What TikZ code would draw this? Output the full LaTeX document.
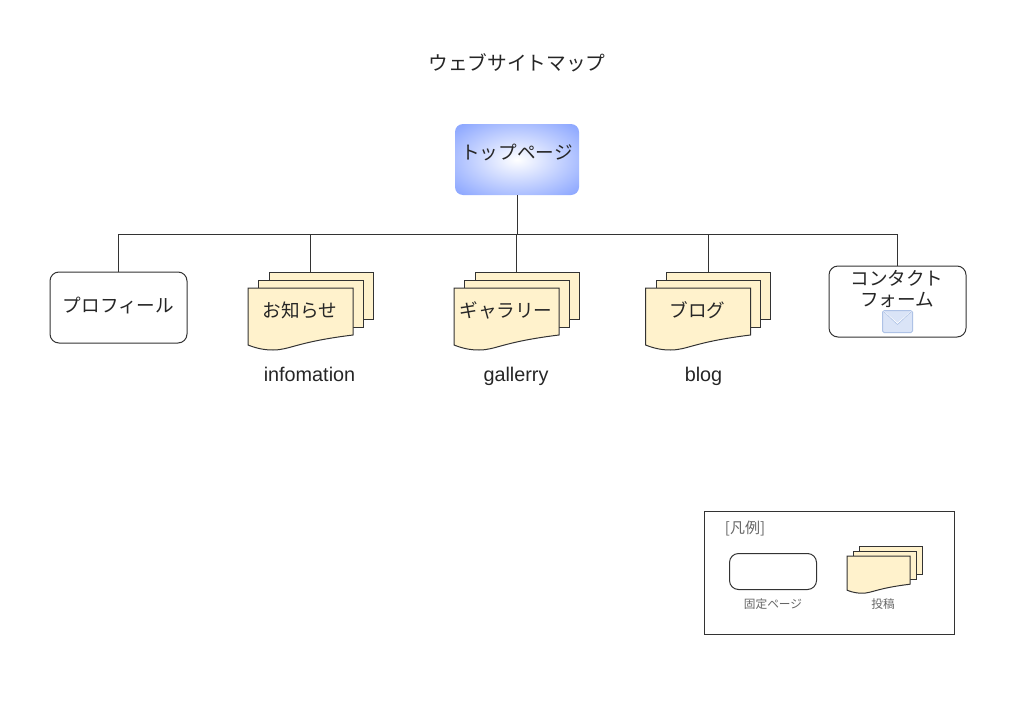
\documentclass[tikz,border=0pt]{standalone}
\usepackage{fontspec}
\setmainfont{Noto Sans CJK JP}
\newfontfamily\latinfont{Liberation Sans}
\usetikzlibrary{positioning,calc}

\definecolor{sheetfill}{HTML}{FFF2CC}
\definecolor{linegray}{HTML}{333333}
\definecolor{topblue}{HTML}{8FA9FF}
\definecolor{mailfill}{HTML}{DAE4F7}
\definecolor{mailline}{HTML}{AEC2E6}
\definecolor{notegray}{HTML}{666666}
\pgfdeclareradialshading{topglow}{\pgfpoint{0bp}{0bp}}{color(0bp)=(white); color(33bp)=(topblue); color(50bp)=(topblue)}

\tikzset{
	sheet/.style={draw=linegray, fill=sheetfill, line width=1pt},
	mainfont/.style={font=\fontsize{18.6}{21}\selectfont, text=black!85},
	fixedpage/.style={draw=linegray, fill=white, rounded corners=9pt, line width=1pt, minimum width=137pt, minimum height=71pt, inner sep=0pt, mainfont},
	toppage/.style={rounded corners=8pt, shading=topglow, minimum width=124pt, minimum height=71pt, inner sep=0pt, mainfont},
	latinlabel/.style={font=\latinfont\fontsize{19.8}{22}\selectfont, text=black!85, anchor=base},
	notelabel/.style={font=\fontsize{11.7}{14}\selectfont, text=notegray},
	link/.style={draw=linegray, line width=1pt},
	docstack/.pic={
		% back sheets, then the front one with its wavy foot
		\draw[sheet] (21,-16) rectangle (125,31);
		\draw[sheet] (10.5,-8) rectangle (115,39);
		\draw[sheet] (0,0) -- (105,0) -- (105,47)
			.. controls (48,54) and (42,62) .. (25,62)
			.. controls (18,62) and (10,61) .. (0,57) -- cycle;
		\coordinate (-top) at (62.5,-16);
		\node[mainfont] (-label) at (52,22) {\tikzpictext};
	},
}

\begin{document}
\begin{tikzpicture}[x=1pt, y=-1pt]
	\useasboundingbox (0,0) rectangle (1024,701);

	% Title
	\node[mainfont, font=\fontsize{19.7}{22}\selectfont] (title) at (517,63) {ウェブサイトマップ};

	% Top page and the pages below it
	\node[toppage] (top) at (517,159.5) {};
	\node[mainfont] (toptext) at (517,152) {トップページ};
	\node[fixedpage] (profile) at (118.5,307.5) {};
	\node[mainfont] (profiletext) at (118.5,305) {プロフィール};
	\pic[pic text=お知らせ] (info) at (248,288) {docstack};
	\pic[pic text=ギャラリー] (gallery) at (454,288) {docstack};
	\pic[pic text=ブログ] (blog) at (645.5,288) {docstack};
	\node[fixedpage] (contact) at (897.5,301.5) {};
	\node[mainfont, align=center] (contacttext) at (897,289) {コンタクト\\フォーム};

	% Mail icon
	\node[draw=mailline, fill=mailfill, rounded corners=1.5pt, line width=1pt, minimum width=30pt, minimum height=22pt, inner sep=0pt] (mail) at (897.5,321.5) {};
	\draw[white, line width=1pt] (mail.north west) -- ($(mail.center)+(0,2)$) -- (mail.north east);
	\draw[mailline, line width=.6pt] ($(mail.north west)+(1,1)$) -- ($(mail.center)+(0,3)$) -- ($(mail.north east)+(-1,1)$);

	% Labels under the stacks
	\node[latinlabel] (infoname) at (309.5,381) {infomation};
	\node[latinlabel] (galleryname) at (516,381) {gallerry};
	\node[latinlabel] (blogname) at (703.5,381) {blog};

	% Connectors
	\coordinate (bus) at (517,234.5);
	\draw[link] (top.south) -- (bus);
	\draw[link] (bus) -| (profile.north);
	\draw[link] (bus) -| (info-top);
	\draw[link] (bus) -| (gallery-top);
	\draw[link] (bus) -| (blog-top);
	\draw[link] (bus) -| (contact.north);

	% Legend
	\node[draw=linegray, line width=1pt, minimum width=250pt, minimum height=123pt, inner sep=0pt] (legend) at (829,572.5) {};
	\node[font=\fontsize{15}{18}\selectfont, text=notegray] (legendtitle) at (745,528.5) {[凡例]};
	\node[fixedpage, minimum width=87pt, minimum height=36pt] (fixedsample) at (773,571.5) {};
	\node[notelabel] (fixedname) at (773,604) {固定ページ};
	\pic[scale=.6, pic text={}] (postsample) at (847,556) {docstack};
	\node[notelabel] (postname) at (883,604) {投稿};
\end{tikzpicture}
\end{document}
